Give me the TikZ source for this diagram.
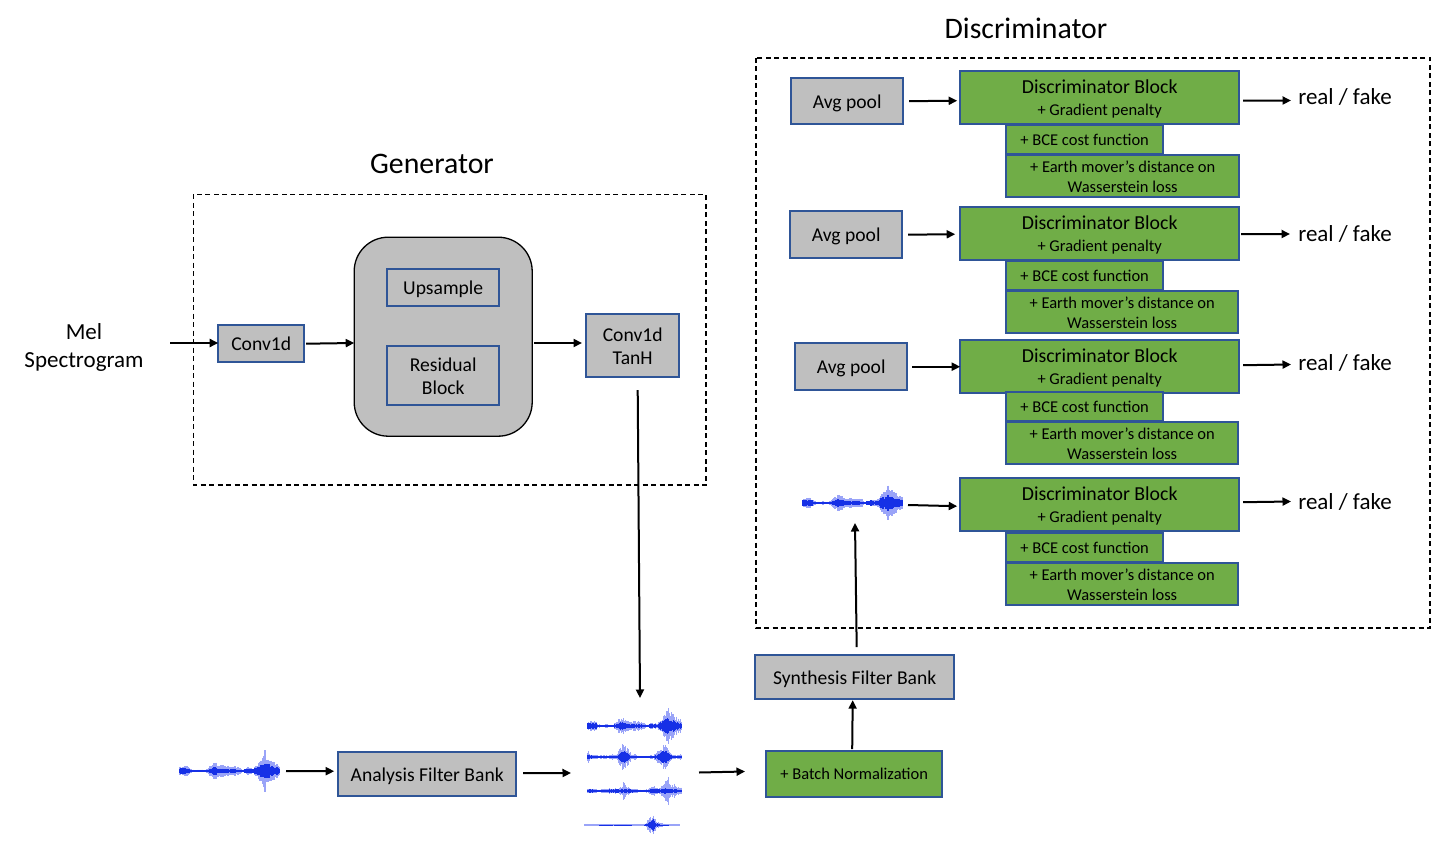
\documentclass[tikz,border=0pt]{standalone}
\usepackage{fontspec}
\setmainfont{Carlito}
\usetikzlibrary{arrows.meta,calc}
\definecolor{bord}{HTML}{2F5597}
\definecolor{grn}{HTML}{70AD47}
\definecolor{gry}{HTML}{BFBFBF}
\definecolor{wlight}{HTML}{9AA4F8}
\definecolor{wdark}{HTML}{1630E6}
\newcommand{\fsz}[1]{\fontsize{#1}{#1}\selectfont}
\tikzset{
  x=1pt,y=-1pt,
  box/.style={draw=bord,line width=1.8pt,inner sep=0pt,outer sep=0pt,align=center,text=black,text depth=0pt},
  graybox/.style={box,fill=gry,font=\fsz{19.6}},
  greenbox/.style={box,fill=grn,font=\fsz{16.5}},
  blockbox/.style={greenbox,text depth=-2.5pt},
  frame/.style={draw=black,line width=1.4pt,dash pattern=on 5pt off 3.5pt},
  arr/.style={draw=black,line width=2pt,-{Triangle[length=8.5pt,width=8pt]}},
  lab/.style={inner sep=0pt,align=center,text=black},
  titlefont/.style={font=\fsz{29.8}},
  labfont/.style={font=\fsz{23}},
}
% name, x1, y1, x2, y2, style, text
\newcommand{\pbox}[7]{%
  \pgfmathsetmacro{\bw}{#4-#2}\pgfmathsetmacro{\bh}{#5-#3}%
  \pgfmathsetmacro{\cx}{(#2+#4)/2+0.2}\pgfmathsetmacro{\cy}{(#3+#5)/2+0.2}%
  \node[#6,minimum width=\bw pt,minimum height=\bh pt] (#1) at (\cx,\cy) {#7};}
% x/light half height/dark half height, on a 0..100 wide scale
\newcommand{\wavemain}{0/5/4,3/6/4,6/6/4,9/4/3,11/2/1,14/1/1,17/1/1,20/2/1,23/1/1,26/1/1,29/4/2,32/7/3,35/10/5,38/9/4,41/7/3,44/6/2,47/6/2,50/6/2,53/5/2,56/5/2,59/4/1,62/1/1,65/2/2,68/4/3,71/3/2,74/3/2,77/8/5,80/12/7,83/15/9,85/24/10,87/19/9,90/15/8,93/12/5,96/9/5,99/7/4}
\newcommand{\wavetwo}{0/7/3,1/9/3,3/3/2,8/2/1,15/2/1,22/2/1,26/3/1,30/3/1,33/8/3,36/14/7,38/17/10,40/14/8,43/9/4,46/4/1,52/2/1,58/1/1,64/1/1,70/2/1,73/5/2,76/10/5,79/12/7,81/16/9,84/11/6,87/7/3,90/3/1,95/2/1,99/3/1}
\newcommand{\wavethree}{0/3/2,4/3/2,8/2/1,14/2/1,20/3/1,25/3/2,30/3/2,34/3/2,37/6/2,38/12/2,41/5/2,46/3/2,52/2/1,58/1/1,64/2/1,67/4/2,70/7/3,73/4/2,76/3/2,79/8/3,82/12/3,85/13/2,86/18/3,89/5/2,92/9/2,94/5/2,97/4/1,99/4/1}
\newcommand{\wavefour}{0/1/0,15/1/0,25/1/0.5,30/1/0,40/1/0.5,50/1/0,62/1/0,65/2/1,67/6/2,69/11/4,71/7/6,72/14/8,74/9/5,76/4/2,80/2/0.5,85/1/0.5,90/1/0,100/1/0}
% colour, amplitude factor, envelope selector (1 = light, 2 = dark), envelope
\newcommand{\wavepass}[4]{%
  \foreach \xx/\hl/\hd [remember=\xx as \wxp (initially 0),remember=\hl as \wlp (initially 0),remember=\hd as \wdp (initially 0)] in #4 {
    \pgfmathsetmacro{\wnn}{max(1,int(\xx-\wxp))}
    \pgfmathsetmacro{\wa}{#3==1?\wlp:\wdp}
    \pgfmathsetmacro{\wb}{#3==1?\hl:\hd}
    \foreach \k in {1,...,\wnn} {
      \pgfmathsetmacro{\wtt}{\k/\wnn}
      \pgfmathsetmacro{\wpx}{(\wxp+(\xx-\wxp)*\wtt)*\ws}
      \pgfmathsetmacro{\wenv}{\wa+(\wb-\wa)*\wtt}
      \pgfmathsetmacro{\wh}{\wenv*(0.55+0.45*rnd)*#2+min(0.35,\wenv*0.3)}
      \draw[#1,line width=1.1pt] (\wpx,-\wh) -- (\wpx,\wh);
    }
  }}
% name, left x, centre y, width, envelope
\newcommand{\wave}[5]{%
  \pgfmathsetmacro{\ws}{#4/100}%
  \begin{scope}[shift={(#2,#3)}]
    \wavepass{wlight}{0.85}{1}{#5}
    \wavepass{wdark}{0.8}{2}{#5}
    \coordinate (#1) at (#4/2,0);
  \end{scope}}
\begin{document}
\begin{tikzpicture}
\pgfmathsetseed{7}
\useasboundingbox (0,0) rectangle (1448,853);
% frames and titles
\path[frame] (193.5,194.5) rectangle (706,485);
\path[frame] (756,58) rectangle (1430,628);
\node[lab,titlefont] (gentitle) at (432,164) {Generator};
\node[lab,titlefont] (distitle) at (1026,28) {Discriminator};
% generator
\node[lab,labfont] (mel) at (84,347) {Mel\\[5pt]Spectrogram};
\pbox{conva}{218}{325}{304}{362}{graybox}{Conv1d}
\pbox{gblock}{354}{237}{532}{436}{draw=black,line width=1.3pt,fill=gry,rounded corners=34pt,inner sep=0pt,outer sep=0pt}{}
\pbox{upsample}{387}{269}{499}{306}{graybox}{Upsample}
\pbox{resblock}{387}{346}{499}{405}{graybox}{Residual\\[3.4pt]Block}
\pbox{convb}{586}{314}{679}{377}{graybox}{Conv1d\\[3.4pt]TanH}
% lower row
\wave{waveA}{180}{771}{100}{\wavemain}
\pbox{analysis}{338}{752}{516}{796}{graybox}{Analysis Filter Bank}
\wave{subA}{588}{726}{94}{\wavemain}
\wave{subB}{588}{757}{94}{\wavetwo}
\wave{subC}{588}{791}{94}{\wavethree}
\wave{subD}{585}{825}{94}{\wavefour}
\pbox{batch}{766}{751}{942}{797}{greenbox}{+ Batch Normalization}
\pbox{synth}{755}{655}{954}{699}{graybox}{Synthesis Filter Bank}
\wave{waveB}{803}{503}{100}{\wavemain}
% discriminator rows
\pbox{poolA}{791}{78}{903}{124}{graybox}{Avg pool}
\pbox{poolB}{790}{211}{902}{258}{graybox}{Avg pool}
\pbox{poolC}{795}{343}{907}{390}{graybox}{Avg pool}
\newcommand{\discblock}[2]{\pbox{#1}{960}{#2}{1239}{\the\numexpr#2+53\relax}{blockbox}{{\fsz{19.8}Discriminator Block}\\[5.5pt]+ Gradient penalty}}
\discblock{dA}{71}
\discblock{dB}{207}
\discblock{dC}{340}
\discblock{dD}{478}
\pbox{bceA}{1006}{125}{1163}{154}{greenbox}{+ BCE cost function}
\pbox{bceB}{1006}{261}{1163}{290}{greenbox}{+ BCE cost function}
\pbox{bceC}{1006}{392}{1163}{421}{greenbox}{+ BCE cost function}
\pbox{bceD}{1006}{533}{1163}{562}{greenbox}{+ BCE cost function}
\pbox{emA}{1006}{155}{1239}{197}{greenbox}{+ Earth mover's distance on\\[3.5pt]Wasserstein loss}
\pbox{emB}{1006}{291}{1238}{333}{greenbox}{+ Earth mover's distance on\\[3.5pt]Wasserstein loss}
\pbox{emC}{1006}{422}{1238}{464}{greenbox}{+ Earth mover's distance on\\[3.5pt]Wasserstein loss}
\pbox{emD}{1006}{563}{1238}{605}{greenbox}{+ Earth mover's distance on\\[3.5pt]Wasserstein loss}
\node[lab,labfont] (rfA) at (1345,97) {real / fake};
\node[lab,labfont] (rfB) at (1345,234) {real / fake};
\node[lab,labfont] (rfC) at (1345,363) {real / fake};
\node[lab,labfont] (rfD) at (1345,502) {real / fake};
% connectors
\draw[arr] (170,343) -- (conva.west |- 0,343);
\draw[arr] ($(conva.east)+(2,0)$) -- (gblock.west |- 0,343);
\draw[arr] (gblock.east |- 0,343) ++(2,0) -- (582,343);
\draw[arr] ($(convb.south)+(5,13)$) -- (640,698);
\draw[arr] ($(waveA)+(56,0)$) -- ($(analysis.west)+(-4,-3)$);
\draw[arr] ($(analysis.east)+(7,-1)$) -- (571,773);
\draw[arr] (699,772.5) -- (745,771.5);
\draw[arr] ($(batch.north)+(-2,-2)$) -- ($(synth.south)+(-2,1)$);
\draw[arr] ($(synth.north)+(2,-8)$) -- (855,523);
\draw[arr] ($(poolA.east)+(6,0)$) -- ($(dA.west)+(-3,3)$);
\draw[arr] ($(poolB.east)+(6,0)$) -- ($(dB.west)+(-5,0.5)$);
\draw[arr] ($(poolC.east)+(5,0)$) -- (dC.west);
\draw[arr] (908,505) -- ($(dD.west)+(-3,1.5)$);
\draw[arr] ($(dA.east)+(4,3)$) -- (1291,100.5);
\draw[arr] ($(dB.east)+(2,0.5)$) -- (1290,234);
\draw[arr] ($(dC.east)+(4,-1.5)$) -- (1291,364.5);
\draw[arr] ($(dD.east)+(4,-2.5)$) -- (1291,501.5);
\end{tikzpicture}
\end{document}
